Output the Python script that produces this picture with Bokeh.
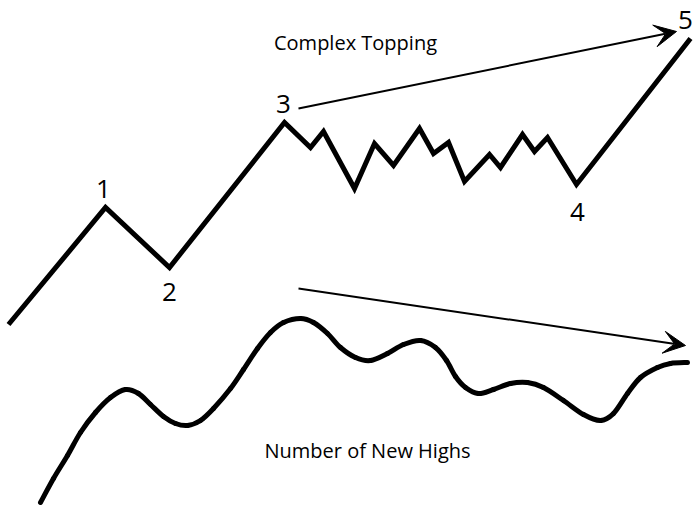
from bokeh.plotting import figure
from bokeh.models import Range1d, Arrow, VeeHead, ColumnDataSource
from bokeh.core.properties import value
from bokeh.embed import file_html
from bokeh.resources import INLINE

# Price path (zigzag) - diagram coordinates (y grows downward)
price_x = [8, 105, 169, 284, 310, 323, 354, 374, 393, 419, 433, 448, 464, 489, 500, 522, 534, 547, 576, 690]
price_y = [324, 207, 267, 122, 147, 131, 188, 143, 165, 128, 153, 142, 181, 154, 167, 134, 151, 137, 184, 38]

# Number of new highs (smooth curve)
highs_x = [40, 53, 67, 80, 95, 110, 125, 138, 150, 163, 175, 187, 200, 213, 230, 243, 257, 270, 283,
           300, 313, 327, 340, 355, 370, 387, 403, 420, 435, 446, 455, 465, 478, 493, 510, 527,
           543, 563, 583, 600, 613, 627, 640, 657, 670, 687]
highs_y = [502, 478, 455, 432, 412, 397, 389, 393, 404, 416, 423, 425, 420, 408, 388, 369, 348, 332, 322,
           318, 322, 333, 347, 357, 360, 353, 344, 340, 347, 360, 376, 387, 393, 389, 383, 382,
           387, 400, 414, 420, 413, 393, 377, 367, 363, 362]

# Wave labels
wave_labels = ["1", "2", "3", "4", "5"]
wave_label_x = [103, 169, 283, 577, 685]
wave_label_y = [188, 291, 103, 211, 19]

# Trend arrows (start -> end)
arrow_x0 = [298, 298]
arrow_y0 = [108, 288]
arrow_x1 = [676, 685]
arrow_y1 = [31, 345]

# Captions
captions = ["Complex Topping", "Number of New Highs"]
caption_x = [355, 367]
caption_y = [42, 450]

W, H = 694, 508
p = figure(width=W, height=H, output_backend="svg", toolbar_location=None,
           x_range=Range1d(0, W), y_range=Range1d(H, 0),
           min_border=0, min_border_left=0, min_border_right=0,
           min_border_top=0, min_border_bottom=0)
p.xaxis.visible = False
p.yaxis.visible = False
p.grid.visible = False
p.outline_line_color = None
p.background_fill_color = "white"
p.border_fill_color = "white"

p.line(price_x, price_y, line_width=5, line_color="black", line_join="miter")

# smooth drawing through the read points: Catmull-Rom -> cubic Bezier segments
n = len(highs_x)
x0s, y0s, x1s, y1s, cx0s, cy0s, cx1s, cy1s = [], [], [], [], [], [], [], []
for i in range(n - 1):
    a = max(i - 1, 0)
    d = min(i + 2, n - 1)
    x0s.append(highs_x[i]); y0s.append(highs_y[i])
    x1s.append(highs_x[i + 1]); y1s.append(highs_y[i + 1])
    cx0s.append(highs_x[i] + (highs_x[i + 1] - highs_x[a]) / 6)
    cy0s.append(highs_y[i] + (highs_y[i + 1] - highs_y[a]) / 6)
    cx1s.append(highs_x[i + 1] - (highs_x[d] - highs_x[i]) / 6)
    cy1s.append(highs_y[i + 1] - (highs_y[d] - highs_y[i]) / 6)
bsrc = ColumnDataSource(dict(x0=x0s, y0=y0s, x1=x1s, y1=y1s, cx0=cx0s, cy0=cy0s, cx1=cx1s, cy1=cy1s))
p.bezier(x0="x0", y0="y0", x1="x1", y1="y1", cx0="cx0", cy0="cy0", cx1="cx1", cy1="cy1",
         source=bsrc, line_width=5, line_color="black", line_cap="round")

for xa, ya, xb, yb in zip(arrow_x0, arrow_y0, arrow_x1, arrow_y1):
    p.add_layout(Arrow(x_start=xa, y_start=ya, x_end=xb, y_end=yb, line_width=2,
                       line_color="black",
                       end=VeeHead(size=22, fill_color="black", line_color="black", line_width=1)))

src = ColumnDataSource(dict(x=wave_label_x, y=wave_label_y, t=wave_labels))
p.text(x="x", y="y", text="t", source=src, text_font=value("Open Sans"),
       text_font_size="26px", text_align="center", text_baseline="middle", text_color="black")

csrc = ColumnDataSource(dict(x=caption_x, y=caption_y, t=captions))
p.text(x="x", y="y", text="t", source=csrc, text_font=value("Open Sans"),
       text_font_size="20px", text_align="center",
       text_baseline="middle", text_color="black")

open("out.html", "w").write(file_html(p, INLINE))
